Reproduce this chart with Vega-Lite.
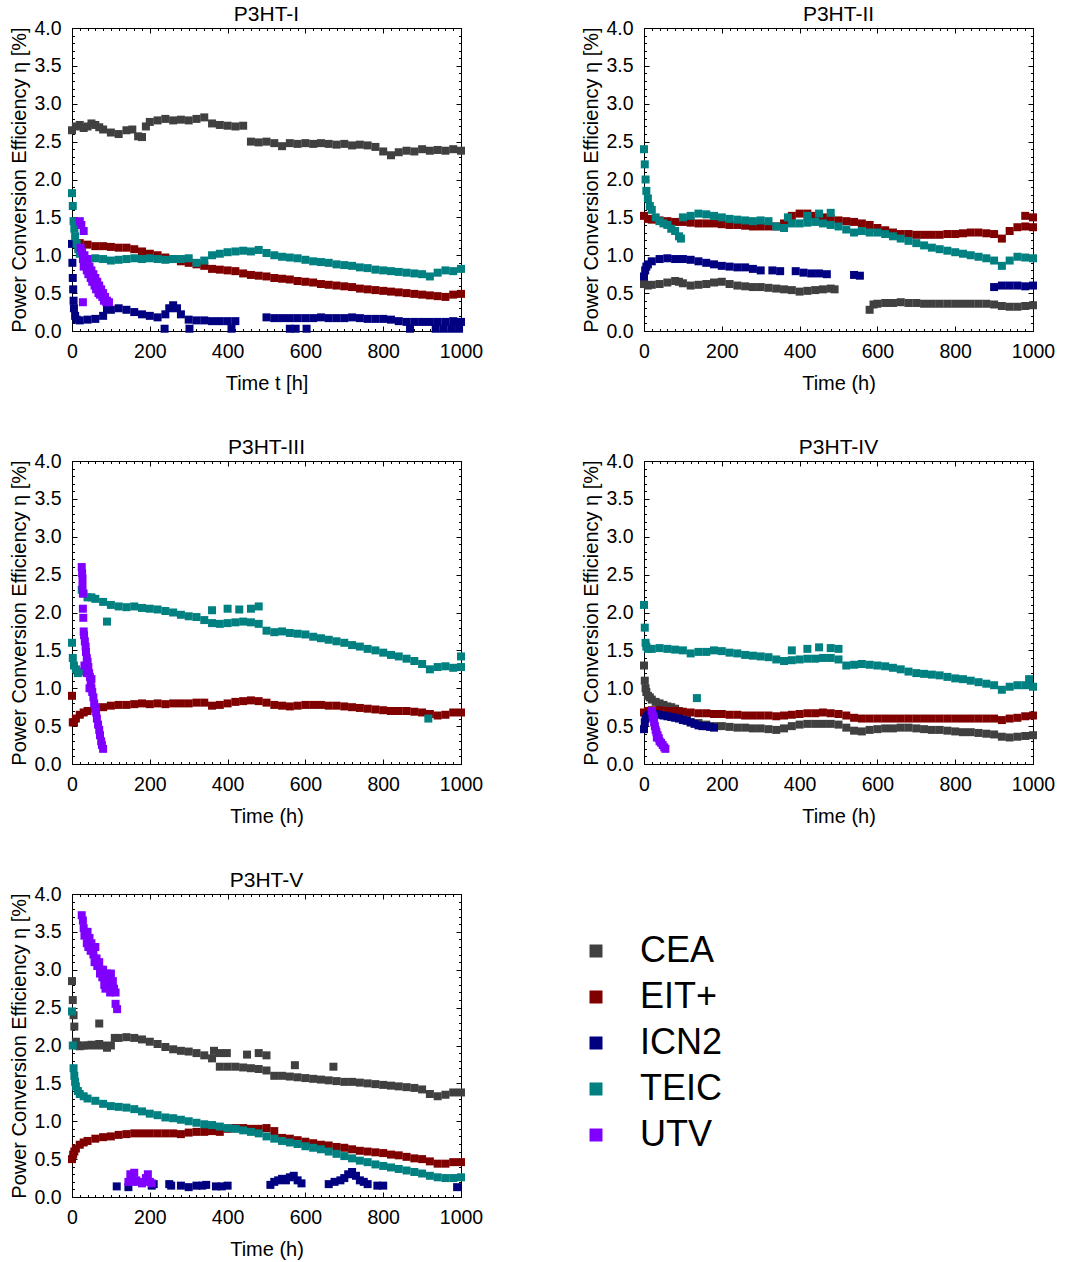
{
"$schema":"https://vega.github.io/schema/vega-lite/v6.json",
"padding":{"left":9,"top":4,"right":5,"bottom":5},
"datasets":{
"p1":[
{"s":"CEA","t":0,"v":2.65},{"s":"CEA","t":10,"v":2.7},{"s":"CEA","t":20,"v":2.72},{"s":"CEA","t":30,"v":2.68},{"s":"CEA","t":40,"v":2.7},{"s":"CEA","t":50,"v":2.74},{"s":"CEA","t":60,"v":2.72},{"s":"CEA","t":70,"v":2.69},{"s":"CEA","t":80,"v":2.66},{"s":"CEA","t":100,"v":2.62},{"s":"CEA","t":120,"v":2.6},{"s":"CEA","t":140,"v":2.65},{"s":"CEA","t":155,"v":2.66},{"s":"CEA","t":170,"v":2.57},{"s":"CEA","t":180,"v":2.56},{"s":"CEA","t":190,"v":2.7},{"s":"CEA","t":200,"v":2.76},{"s":"CEA","t":220,"v":2.78},{"s":"CEA","t":240,"v":2.8},{"s":"CEA","t":260,"v":2.78},{"s":"CEA","t":280,"v":2.79},{"s":"CEA","t":300,"v":2.78},{"s":"CEA","t":320,"v":2.8},{"s":"CEA","t":340,"v":2.82},{"s":"CEA","t":360,"v":2.74},{"s":"CEA","t":380,"v":2.72},{"s":"CEA","t":400,"v":2.71},{"s":"CEA","t":420,"v":2.7},{"s":"CEA","t":440,"v":2.71},{"s":"CEA","t":460,"v":2.5},{"s":"CEA","t":480,"v":2.49},{"s":"CEA","t":500,"v":2.5},{"s":"CEA","t":520,"v":2.48},{"s":"CEA","t":540,"v":2.44},{"s":"CEA","t":560,"v":2.48},{"s":"CEA","t":580,"v":2.47},{"s":"CEA","t":600,"v":2.48},{"s":"CEA","t":620,"v":2.47},{"s":"CEA","t":640,"v":2.48},{"s":"CEA","t":660,"v":2.47},{"s":"CEA","t":680,"v":2.46},{"s":"CEA","t":700,"v":2.47},{"s":"CEA","t":720,"v":2.45},{"s":"CEA","t":740,"v":2.46},{"s":"CEA","t":760,"v":2.45},{"s":"CEA","t":780,"v":2.43},{"s":"CEA","t":800,"v":2.37},{"s":"CEA","t":820,"v":2.32},{"s":"CEA","t":840,"v":2.36},{"s":"CEA","t":860,"v":2.38},{"s":"CEA","t":880,"v":2.37},{"s":"CEA","t":900,"v":2.4},{"s":"CEA","t":920,"v":2.38},{"s":"CEA","t":940,"v":2.39},{"s":"CEA","t":960,"v":2.38},{"s":"CEA","t":980,"v":2.4},{"s":"CEA","t":1000,"v":2.38},
{"s":"EIT+","t":20,"v":1.16},{"s":"EIT+","t":40,"v":1.14},{"s":"EIT+","t":60,"v":1.12},{"s":"EIT+","t":80,"v":1.12},{"s":"EIT+","t":100,"v":1.11},{"s":"EIT+","t":120,"v":1.1},{"s":"EIT+","t":140,"v":1.1},{"s":"EIT+","t":160,"v":1.08},{"s":"EIT+","t":180,"v":1.05},{"s":"EIT+","t":200,"v":1.02},{"s":"EIT+","t":220,"v":1.0},{"s":"EIT+","t":240,"v":0.97},{"s":"EIT+","t":260,"v":0.95},{"s":"EIT+","t":280,"v":0.92},{"s":"EIT+","t":300,"v":0.9},{"s":"EIT+","t":320,"v":0.88},{"s":"EIT+","t":340,"v":0.86},{"s":"EIT+","t":360,"v":0.82},{"s":"EIT+","t":380,"v":0.81},{"s":"EIT+","t":400,"v":0.8},{"s":"EIT+","t":420,"v":0.79},{"s":"EIT+","t":440,"v":0.76},{"s":"EIT+","t":460,"v":0.74},{"s":"EIT+","t":480,"v":0.73},{"s":"EIT+","t":500,"v":0.72},{"s":"EIT+","t":520,"v":0.7},{"s":"EIT+","t":540,"v":0.69},{"s":"EIT+","t":560,"v":0.68},{"s":"EIT+","t":580,"v":0.66},{"s":"EIT+","t":600,"v":0.65},{"s":"EIT+","t":620,"v":0.64},{"s":"EIT+","t":640,"v":0.62},{"s":"EIT+","t":660,"v":0.61},{"s":"EIT+","t":680,"v":0.6},{"s":"EIT+","t":700,"v":0.59},{"s":"EIT+","t":720,"v":0.58},{"s":"EIT+","t":740,"v":0.56},{"s":"EIT+","t":760,"v":0.55},{"s":"EIT+","t":780,"v":0.54},{"s":"EIT+","t":800,"v":0.53},{"s":"EIT+","t":820,"v":0.52},{"s":"EIT+","t":840,"v":0.51},{"s":"EIT+","t":860,"v":0.5},{"s":"EIT+","t":880,"v":0.49},{"s":"EIT+","t":900,"v":0.48},{"s":"EIT+","t":920,"v":0.47},{"s":"EIT+","t":940,"v":0.46},{"s":"EIT+","t":960,"v":0.45},{"s":"EIT+","t":980,"v":0.48},{"s":"EIT+","t":1000,"v":0.49},
{"s":"ICN2","t":0,"v":1.15},{"s":"ICN2","t":1,"v":0.9},{"s":"ICN2","t":2,"v":0.7},{"s":"ICN2","t":3,"v":0.55},{"s":"ICN2","t":4,"v":0.4},{"s":"ICN2","t":5,"v":0.3},{"s":"ICN2","t":8,"v":0.2},{"s":"ICN2","t":12,"v":0.15},{"s":"ICN2","t":20,"v":0.14},{"s":"ICN2","t":40,"v":0.15},{"s":"ICN2","t":60,"v":0.16},{"s":"ICN2","t":80,"v":0.2},{"s":"ICN2","t":90,"v":0.3},{"s":"ICN2","t":100,"v":0.28},{"s":"ICN2","t":120,"v":0.3},{"s":"ICN2","t":140,"v":0.28},{"s":"ICN2","t":160,"v":0.25},{"s":"ICN2","t":180,"v":0.22},{"s":"ICN2","t":200,"v":0.2},{"s":"ICN2","t":220,"v":0.18},{"s":"ICN2","t":240,"v":0.22},{"s":"ICN2","t":250,"v":0.3},{"s":"ICN2","t":260,"v":0.34},{"s":"ICN2","t":270,"v":0.3},{"s":"ICN2","t":280,"v":0.22},{"s":"ICN2","t":300,"v":0.15},{"s":"ICN2","t":320,"v":0.14},{"s":"ICN2","t":340,"v":0.14},{"s":"ICN2","t":360,"v":0.13},{"s":"ICN2","t":380,"v":0.13},{"s":"ICN2","t":400,"v":0.13},{"s":"ICN2","t":420,"v":0.13},{"s":"ICN2","t":500,"v":0.18},{"s":"ICN2","t":520,"v":0.17},{"s":"ICN2","t":540,"v":0.17},{"s":"ICN2","t":560,"v":0.17},{"s":"ICN2","t":580,"v":0.17},{"s":"ICN2","t":600,"v":0.17},{"s":"ICN2","t":620,"v":0.17},{"s":"ICN2","t":640,"v":0.18},{"s":"ICN2","t":660,"v":0.17},{"s":"ICN2","t":680,"v":0.17},{"s":"ICN2","t":700,"v":0.17},{"s":"ICN2","t":720,"v":0.18},{"s":"ICN2","t":740,"v":0.17},{"s":"ICN2","t":760,"v":0.16},{"s":"ICN2","t":780,"v":0.16},{"s":"ICN2","t":800,"v":0.16},{"s":"ICN2","t":820,"v":0.15},{"s":"ICN2","t":840,"v":0.13},{"s":"ICN2","t":860,"v":0.12},{"s":"ICN2","t":880,"v":0.12},{"s":"ICN2","t":900,"v":0.12},{"s":"ICN2","t":920,"v":0.12},{"s":"ICN2","t":940,"v":0.12},{"s":"ICN2","t":960,"v":0.12},{"s":"ICN2","t":980,"v":0.13},{"s":"ICN2","t":1000,"v":0.12},{"s":"ICN2","t":238,"v":0.03},{"s":"ICN2","t":302,"v":0.03},{"s":"ICN2","t":410,"v":0.03},{"s":"ICN2","t":560,"v":0.03},{"s":"ICN2","t":575,"v":0.03},{"s":"ICN2","t":603,"v":0.03},{"s":"ICN2","t":869,"v":0.03},{"s":"ICN2","t":935,"v":0.03},{"s":"ICN2","t":955,"v":0.03},{"s":"ICN2","t":975,"v":0.03},{"s":"ICN2","t":995,"v":0.03},
{"s":"TEIC","t":0,"v":1.82},{"s":"TEIC","t":2,"v":1.65},{"s":"TEIC","t":4,"v":1.45},{"s":"TEIC","t":6,"v":1.35},{"s":"TEIC","t":8,"v":1.25},{"s":"TEIC","t":12,"v":1.15},{"s":"TEIC","t":16,"v":1.08},{"s":"TEIC","t":20,"v":1.02},{"s":"TEIC","t":30,"v":0.97},{"s":"TEIC","t":40,"v":0.95},{"s":"TEIC","t":60,"v":0.96},{"s":"TEIC","t":80,"v":0.95},{"s":"TEIC","t":100,"v":0.93},{"s":"TEIC","t":120,"v":0.94},{"s":"TEIC","t":140,"v":0.95},{"s":"TEIC","t":160,"v":0.96},{"s":"TEIC","t":180,"v":0.95},{"s":"TEIC","t":200,"v":0.96},{"s":"TEIC","t":220,"v":0.95},{"s":"TEIC","t":240,"v":0.94},{"s":"TEIC","t":260,"v":0.95},{"s":"TEIC","t":280,"v":0.95},{"s":"TEIC","t":300,"v":0.96},{"s":"TEIC","t":320,"v":0.9},{"s":"TEIC","t":340,"v":0.93},{"s":"TEIC","t":360,"v":1.0},{"s":"TEIC","t":380,"v":1.02},{"s":"TEIC","t":400,"v":1.04},{"s":"TEIC","t":420,"v":1.05},{"s":"TEIC","t":440,"v":1.06},{"s":"TEIC","t":460,"v":1.05},{"s":"TEIC","t":480,"v":1.07},{"s":"TEIC","t":500,"v":1.03},{"s":"TEIC","t":520,"v":1.0},{"s":"TEIC","t":540,"v":0.98},{"s":"TEIC","t":560,"v":0.97},{"s":"TEIC","t":580,"v":0.96},{"s":"TEIC","t":600,"v":0.94},{"s":"TEIC","t":620,"v":0.92},{"s":"TEIC","t":640,"v":0.91},{"s":"TEIC","t":660,"v":0.9},{"s":"TEIC","t":680,"v":0.88},{"s":"TEIC","t":700,"v":0.87},{"s":"TEIC","t":720,"v":0.86},{"s":"TEIC","t":740,"v":0.84},{"s":"TEIC","t":760,"v":0.83},{"s":"TEIC","t":780,"v":0.81},{"s":"TEIC","t":800,"v":0.8},{"s":"TEIC","t":820,"v":0.79},{"s":"TEIC","t":840,"v":0.78},{"s":"TEIC","t":860,"v":0.77},{"s":"TEIC","t":880,"v":0.76},{"s":"TEIC","t":900,"v":0.75},{"s":"TEIC","t":920,"v":0.72},{"s":"TEIC","t":940,"v":0.77},{"s":"TEIC","t":960,"v":0.8},{"s":"TEIC","t":980,"v":0.79},{"s":"TEIC","t":1000,"v":0.82},
{"s":"UTV","t":20,"v":1.45},{"s":"UTV","t":24,"v":1.4},{"s":"UTV","t":30,"v":1.32},{"s":"UTV","t":22,"v":1.1},{"s":"UTV","t":26,"v":1.05},{"s":"UTV","t":28,"v":0.95},{"s":"UTV","t":30,"v":0.85},{"s":"UTV","t":32,"v":1.0},{"s":"UTV","t":35,"v":0.9},{"s":"UTV","t":38,"v":0.8},{"s":"UTV","t":40,"v":0.95},{"s":"UTV","t":42,"v":0.75},{"s":"UTV","t":45,"v":0.85},{"s":"UTV","t":48,"v":0.7},{"s":"UTV","t":50,"v":0.8},{"s":"UTV","t":52,"v":0.65},{"s":"UTV","t":55,"v":0.75},{"s":"UTV","t":58,"v":0.6},{"s":"UTV","t":60,"v":0.7},{"s":"UTV","t":62,"v":0.55},{"s":"UTV","t":65,"v":0.65},{"s":"UTV","t":68,"v":0.5},{"s":"UTV","t":70,"v":0.6},{"s":"UTV","t":72,"v":0.48},{"s":"UTV","t":75,"v":0.55},{"s":"UTV","t":78,"v":0.45},{"s":"UTV","t":80,"v":0.5},{"s":"UTV","t":82,"v":0.4},{"s":"UTV","t":85,"v":0.45},{"s":"UTV","t":88,"v":0.38},{"s":"UTV","t":90,"v":0.4},{"s":"UTV","t":95,"v":0.38},{"s":"UTV","t":28,"v":0.38}
],
"p2":[
{"s":"CEA","t":0,"v":0.62},{"s":"CEA","t":10,"v":0.6},{"s":"CEA","t":20,"v":0.61},{"s":"CEA","t":40,"v":0.62},{"s":"CEA","t":60,"v":0.64},{"s":"CEA","t":80,"v":0.66},{"s":"CEA","t":90,"v":0.65},{"s":"CEA","t":100,"v":0.63},{"s":"CEA","t":120,"v":0.6},{"s":"CEA","t":140,"v":0.61},{"s":"CEA","t":160,"v":0.62},{"s":"CEA","t":180,"v":0.64},{"s":"CEA","t":200,"v":0.65},{"s":"CEA","t":220,"v":0.62},{"s":"CEA","t":240,"v":0.6},{"s":"CEA","t":260,"v":0.59},{"s":"CEA","t":280,"v":0.58},{"s":"CEA","t":300,"v":0.58},{"s":"CEA","t":320,"v":0.57},{"s":"CEA","t":340,"v":0.56},{"s":"CEA","t":360,"v":0.55},{"s":"CEA","t":380,"v":0.54},{"s":"CEA","t":400,"v":0.52},{"s":"CEA","t":420,"v":0.53},{"s":"CEA","t":440,"v":0.54},{"s":"CEA","t":460,"v":0.55},{"s":"CEA","t":480,"v":0.56},{"s":"CEA","t":490,"v":0.55},{"s":"CEA","t":580,"v":0.28},{"s":"CEA","t":590,"v":0.35},{"s":"CEA","t":600,"v":0.36},{"s":"CEA","t":620,"v":0.37},{"s":"CEA","t":640,"v":0.37},{"s":"CEA","t":660,"v":0.38},{"s":"CEA","t":680,"v":0.37},{"s":"CEA","t":700,"v":0.37},{"s":"CEA","t":720,"v":0.36},{"s":"CEA","t":740,"v":0.36},{"s":"CEA","t":760,"v":0.36},{"s":"CEA","t":780,"v":0.36},{"s":"CEA","t":800,"v":0.36},{"s":"CEA","t":820,"v":0.36},{"s":"CEA","t":840,"v":0.36},{"s":"CEA","t":860,"v":0.36},{"s":"CEA","t":880,"v":0.36},{"s":"CEA","t":900,"v":0.35},{"s":"CEA","t":920,"v":0.33},{"s":"CEA","t":940,"v":0.32},{"s":"CEA","t":960,"v":0.32},{"s":"CEA","t":980,"v":0.33},{"s":"CEA","t":1000,"v":0.34},
{"s":"EIT+","t":0,"v":1.52},{"s":"EIT+","t":10,"v":1.48},{"s":"EIT+","t":20,"v":1.47},{"s":"EIT+","t":40,"v":1.46},{"s":"EIT+","t":60,"v":1.45},{"s":"EIT+","t":80,"v":1.44},{"s":"EIT+","t":100,"v":1.44},{"s":"EIT+","t":120,"v":1.43},{"s":"EIT+","t":140,"v":1.42},{"s":"EIT+","t":160,"v":1.42},{"s":"EIT+","t":180,"v":1.42},{"s":"EIT+","t":200,"v":1.41},{"s":"EIT+","t":220,"v":1.4},{"s":"EIT+","t":240,"v":1.4},{"s":"EIT+","t":260,"v":1.39},{"s":"EIT+","t":280,"v":1.38},{"s":"EIT+","t":300,"v":1.38},{"s":"EIT+","t":320,"v":1.38},{"s":"EIT+","t":340,"v":1.38},{"s":"EIT+","t":360,"v":1.42},{"s":"EIT+","t":380,"v":1.52},{"s":"EIT+","t":400,"v":1.55},{"s":"EIT+","t":420,"v":1.55},{"s":"EIT+","t":440,"v":1.52},{"s":"EIT+","t":460,"v":1.5},{"s":"EIT+","t":480,"v":1.48},{"s":"EIT+","t":500,"v":1.46},{"s":"EIT+","t":520,"v":1.45},{"s":"EIT+","t":540,"v":1.44},{"s":"EIT+","t":560,"v":1.42},{"s":"EIT+","t":580,"v":1.4},{"s":"EIT+","t":600,"v":1.36},{"s":"EIT+","t":620,"v":1.33},{"s":"EIT+","t":640,"v":1.3},{"s":"EIT+","t":660,"v":1.28},{"s":"EIT+","t":680,"v":1.28},{"s":"EIT+","t":700,"v":1.27},{"s":"EIT+","t":720,"v":1.27},{"s":"EIT+","t":740,"v":1.27},{"s":"EIT+","t":760,"v":1.27},{"s":"EIT+","t":780,"v":1.28},{"s":"EIT+","t":800,"v":1.28},{"s":"EIT+","t":820,"v":1.29},{"s":"EIT+","t":840,"v":1.3},{"s":"EIT+","t":860,"v":1.3},{"s":"EIT+","t":880,"v":1.29},{"s":"EIT+","t":900,"v":1.28},{"s":"EIT+","t":920,"v":1.22},{"s":"EIT+","t":940,"v":1.32},{"s":"EIT+","t":960,"v":1.37},{"s":"EIT+","t":980,"v":1.38},{"s":"EIT+","t":1000,"v":1.37},{"s":"EIT+","t":980,"v":1.52},{"s":"EIT+","t":1000,"v":1.5},
{"s":"ICN2","t":0,"v":0.72},{"s":"ICN2","t":3,"v":0.8},{"s":"ICN2","t":6,"v":0.85},{"s":"ICN2","t":10,"v":0.88},{"s":"ICN2","t":20,"v":0.92},{"s":"ICN2","t":40,"v":0.95},{"s":"ICN2","t":60,"v":0.96},{"s":"ICN2","t":80,"v":0.95},{"s":"ICN2","t":100,"v":0.95},{"s":"ICN2","t":120,"v":0.94},{"s":"ICN2","t":140,"v":0.92},{"s":"ICN2","t":160,"v":0.9},{"s":"ICN2","t":180,"v":0.88},{"s":"ICN2","t":200,"v":0.86},{"s":"ICN2","t":220,"v":0.85},{"s":"ICN2","t":240,"v":0.84},{"s":"ICN2","t":260,"v":0.84},{"s":"ICN2","t":280,"v":0.82},{"s":"ICN2","t":300,"v":0.8},{"s":"ICN2","t":330,"v":0.8},{"s":"ICN2","t":350,"v":0.79},{"s":"ICN2","t":390,"v":0.79},{"s":"ICN2","t":410,"v":0.77},{"s":"ICN2","t":430,"v":0.76},{"s":"ICN2","t":450,"v":0.76},{"s":"ICN2","t":470,"v":0.75},{"s":"ICN2","t":540,"v":0.74},{"s":"ICN2","t":555,"v":0.73},{"s":"ICN2","t":900,"v":0.58},{"s":"ICN2","t":920,"v":0.6},{"s":"ICN2","t":940,"v":0.6},{"s":"ICN2","t":960,"v":0.6},{"s":"ICN2","t":980,"v":0.59},{"s":"ICN2","t":1000,"v":0.6},
{"s":"TEIC","t":0,"v":2.4},{"s":"TEIC","t":2,"v":2.2},{"s":"TEIC","t":4,"v":2.0},{"s":"TEIC","t":6,"v":1.85},{"s":"TEIC","t":10,"v":1.75},{"s":"TEIC","t":15,"v":1.65},{"s":"TEIC","t":20,"v":1.6},{"s":"TEIC","t":30,"v":1.5},{"s":"TEIC","t":40,"v":1.45},{"s":"TEIC","t":50,"v":1.42},{"s":"TEIC","t":60,"v":1.4},{"s":"TEIC","t":70,"v":1.35},{"s":"TEIC","t":80,"v":1.32},{"s":"TEIC","t":90,"v":1.25},{"s":"TEIC","t":95,"v":1.22},{"s":"TEIC","t":100,"v":1.5},{"s":"TEIC","t":120,"v":1.52},{"s":"TEIC","t":140,"v":1.55},{"s":"TEIC","t":160,"v":1.54},{"s":"TEIC","t":180,"v":1.52},{"s":"TEIC","t":200,"v":1.5},{"s":"TEIC","t":220,"v":1.48},{"s":"TEIC","t":240,"v":1.47},{"s":"TEIC","t":260,"v":1.46},{"s":"TEIC","t":280,"v":1.45},{"s":"TEIC","t":300,"v":1.46},{"s":"TEIC","t":320,"v":1.45},{"s":"TEIC","t":340,"v":1.38},{"s":"TEIC","t":360,"v":1.36},{"s":"TEIC","t":380,"v":1.42},{"s":"TEIC","t":400,"v":1.42},{"s":"TEIC","t":420,"v":1.43},{"s":"TEIC","t":440,"v":1.44},{"s":"TEIC","t":460,"v":1.42},{"s":"TEIC","t":480,"v":1.4},{"s":"TEIC","t":500,"v":1.38},{"s":"TEIC","t":520,"v":1.34},{"s":"TEIC","t":540,"v":1.3},{"s":"TEIC","t":560,"v":1.32},{"s":"TEIC","t":580,"v":1.3},{"s":"TEIC","t":600,"v":1.3},{"s":"TEIC","t":620,"v":1.28},{"s":"TEIC","t":640,"v":1.25},{"s":"TEIC","t":660,"v":1.22},{"s":"TEIC","t":680,"v":1.19},{"s":"TEIC","t":700,"v":1.16},{"s":"TEIC","t":720,"v":1.13},{"s":"TEIC","t":740,"v":1.1},{"s":"TEIC","t":760,"v":1.08},{"s":"TEIC","t":780,"v":1.06},{"s":"TEIC","t":800,"v":1.04},{"s":"TEIC","t":820,"v":1.02},{"s":"TEIC","t":840,"v":1.0},{"s":"TEIC","t":860,"v":0.98},{"s":"TEIC","t":880,"v":0.96},{"s":"TEIC","t":900,"v":0.93},{"s":"TEIC","t":920,"v":0.86},{"s":"TEIC","t":940,"v":0.93},{"s":"TEIC","t":960,"v":0.98},{"s":"TEIC","t":980,"v":0.97},{"s":"TEIC","t":1000,"v":0.96},{"s":"TEIC","t":370,"v":1.5},{"s":"TEIC","t":420,"v":1.52},{"s":"TEIC","t":450,"v":1.55},{"s":"TEIC","t":480,"v":1.56}
],
"p3":[
{"s":"EIT+","t":0,"v":0.9},{"s":"EIT+","t":2,"v":0.55},{"s":"EIT+","t":5,"v":0.55},{"s":"EIT+","t":10,"v":0.6},{"s":"EIT+","t":20,"v":0.65},{"s":"EIT+","t":30,"v":0.68},{"s":"EIT+","t":40,"v":0.7},{"s":"EIT+","t":60,"v":0.73},{"s":"EIT+","t":80,"v":0.75},{"s":"EIT+","t":100,"v":0.77},{"s":"EIT+","t":120,"v":0.78},{"s":"EIT+","t":140,"v":0.78},{"s":"EIT+","t":160,"v":0.79},{"s":"EIT+","t":180,"v":0.8},{"s":"EIT+","t":200,"v":0.79},{"s":"EIT+","t":220,"v":0.8},{"s":"EIT+","t":240,"v":0.79},{"s":"EIT+","t":260,"v":0.8},{"s":"EIT+","t":280,"v":0.8},{"s":"EIT+","t":300,"v":0.8},{"s":"EIT+","t":320,"v":0.81},{"s":"EIT+","t":340,"v":0.81},{"s":"EIT+","t":360,"v":0.77},{"s":"EIT+","t":380,"v":0.78},{"s":"EIT+","t":400,"v":0.8},{"s":"EIT+","t":420,"v":0.82},{"s":"EIT+","t":440,"v":0.83},{"s":"EIT+","t":460,"v":0.84},{"s":"EIT+","t":480,"v":0.83},{"s":"EIT+","t":500,"v":0.81},{"s":"EIT+","t":520,"v":0.78},{"s":"EIT+","t":540,"v":0.77},{"s":"EIT+","t":560,"v":0.76},{"s":"EIT+","t":580,"v":0.77},{"s":"EIT+","t":600,"v":0.78},{"s":"EIT+","t":620,"v":0.78},{"s":"EIT+","t":640,"v":0.78},{"s":"EIT+","t":660,"v":0.77},{"s":"EIT+","t":680,"v":0.77},{"s":"EIT+","t":700,"v":0.76},{"s":"EIT+","t":720,"v":0.75},{"s":"EIT+","t":740,"v":0.74},{"s":"EIT+","t":760,"v":0.73},{"s":"EIT+","t":780,"v":0.72},{"s":"EIT+","t":800,"v":0.71},{"s":"EIT+","t":820,"v":0.7},{"s":"EIT+","t":840,"v":0.7},{"s":"EIT+","t":860,"v":0.7},{"s":"EIT+","t":880,"v":0.69},{"s":"EIT+","t":900,"v":0.68},{"s":"EIT+","t":920,"v":0.66},{"s":"EIT+","t":940,"v":0.64},{"s":"EIT+","t":960,"v":0.65},{"s":"EIT+","t":980,"v":0.68},{"s":"EIT+","t":1000,"v":0.68},
{"s":"TEIC","t":0,"v":1.6},{"s":"TEIC","t":2,"v":1.4},{"s":"TEIC","t":5,"v":1.3},{"s":"TEIC","t":10,"v":1.25},{"s":"TEIC","t":15,"v":1.2},{"s":"TEIC","t":20,"v":1.22},{"s":"TEIC","t":25,"v":2.3},{"s":"TEIC","t":30,"v":2.25},{"s":"TEIC","t":40,"v":2.2},{"s":"TEIC","t":50,"v":2.2},{"s":"TEIC","t":60,"v":2.18},{"s":"TEIC","t":80,"v":2.14},{"s":"TEIC","t":90,"v":1.88},{"s":"TEIC","t":100,"v":2.1},{"s":"TEIC","t":120,"v":2.08},{"s":"TEIC","t":140,"v":2.07},{"s":"TEIC","t":160,"v":2.08},{"s":"TEIC","t":180,"v":2.06},{"s":"TEIC","t":200,"v":2.05},{"s":"TEIC","t":220,"v":2.04},{"s":"TEIC","t":240,"v":2.02},{"s":"TEIC","t":260,"v":2.0},{"s":"TEIC","t":280,"v":1.97},{"s":"TEIC","t":300,"v":1.95},{"s":"TEIC","t":320,"v":1.94},{"s":"TEIC","t":340,"v":1.9},{"s":"TEIC","t":360,"v":1.86},{"s":"TEIC","t":380,"v":1.85},{"s":"TEIC","t":400,"v":1.86},{"s":"TEIC","t":420,"v":1.87},{"s":"TEIC","t":440,"v":1.88},{"s":"TEIC","t":460,"v":1.87},{"s":"TEIC","t":480,"v":1.85},{"s":"TEIC","t":500,"v":1.76},{"s":"TEIC","t":520,"v":1.74},{"s":"TEIC","t":540,"v":1.75},{"s":"TEIC","t":560,"v":1.73},{"s":"TEIC","t":580,"v":1.72},{"s":"TEIC","t":600,"v":1.71},{"s":"TEIC","t":620,"v":1.68},{"s":"TEIC","t":640,"v":1.66},{"s":"TEIC","t":660,"v":1.64},{"s":"TEIC","t":680,"v":1.62},{"s":"TEIC","t":700,"v":1.6},{"s":"TEIC","t":720,"v":1.57},{"s":"TEIC","t":740,"v":1.55},{"s":"TEIC","t":760,"v":1.52},{"s":"TEIC","t":780,"v":1.5},{"s":"TEIC","t":800,"v":1.47},{"s":"TEIC","t":820,"v":1.44},{"s":"TEIC","t":840,"v":1.42},{"s":"TEIC","t":860,"v":1.39},{"s":"TEIC","t":880,"v":1.36},{"s":"TEIC","t":900,"v":1.32},{"s":"TEIC","t":920,"v":1.25},{"s":"TEIC","t":940,"v":1.28},{"s":"TEIC","t":960,"v":1.29},{"s":"TEIC","t":980,"v":1.27},{"s":"TEIC","t":1000,"v":1.28},{"s":"TEIC","t":360,"v":2.03},{"s":"TEIC","t":400,"v":2.05},{"s":"TEIC","t":430,"v":2.04},{"s":"TEIC","t":460,"v":2.05},{"s":"TEIC","t":480,"v":2.08},{"s":"TEIC","t":1000,"v":1.42},{"s":"TEIC","t":916,"v":0.6},
{"s":"UTV","t":25,"v":2.6},{"s":"UTV","t":26,"v":2.52},{"s":"UTV","t":27,"v":2.45},{"s":"UTV","t":27,"v":2.35},{"s":"UTV","t":28,"v":2.25},{"s":"UTV","t":28,"v":2.05},{"s":"UTV","t":29,"v":1.93},{"s":"UTV","t":30,"v":1.75},{"s":"UTV","t":31,"v":1.7},{"s":"UTV","t":33,"v":1.62},{"s":"UTV","t":35,"v":1.55},{"s":"UTV","t":36,"v":1.48},{"s":"UTV","t":38,"v":1.4},{"s":"UTV","t":40,"v":1.35},{"s":"UTV","t":42,"v":1.28},{"s":"UTV","t":44,"v":1.2},{"s":"UTV","t":46,"v":1.15},{"s":"UTV","t":48,"v":1.08},{"s":"UTV","t":50,"v":1.0},{"s":"UTV","t":52,"v":0.95},{"s":"UTV","t":55,"v":0.88},{"s":"UTV","t":57,"v":0.8},{"s":"UTV","t":60,"v":0.75},{"s":"UTV","t":62,"v":0.68},{"s":"UTV","t":64,"v":0.6},{"s":"UTV","t":67,"v":0.52},{"s":"UTV","t":70,"v":0.45},{"s":"UTV","t":72,"v":0.38},{"s":"UTV","t":75,"v":0.3},{"s":"UTV","t":77,"v":0.25},{"s":"UTV","t":80,"v":0.2},{"s":"UTV","t":32,"v":1.3},{"s":"UTV","t":38,"v":1.2},{"s":"UTV","t":45,"v":1.0},{"s":"UTV","t":50,"v":1.12}
],
"p4":[
{"s":"CEA","t":0,"v":1.3},{"s":"CEA","t":2,"v":1.1},{"s":"CEA","t":4,"v":1.0},{"s":"CEA","t":6,"v":0.95},{"s":"CEA","t":10,"v":0.9},{"s":"CEA","t":15,"v":0.88},{"s":"CEA","t":20,"v":0.85},{"s":"CEA","t":30,"v":0.82},{"s":"CEA","t":40,"v":0.8},{"s":"CEA","t":50,"v":0.78},{"s":"CEA","t":60,"v":0.76},{"s":"CEA","t":70,"v":0.75},{"s":"CEA","t":80,"v":0.73},{"s":"CEA","t":90,"v":0.7},{"s":"CEA","t":100,"v":0.65},{"s":"CEA","t":110,"v":0.6},{"s":"CEA","t":120,"v":0.55},{"s":"CEA","t":140,"v":0.54},{"s":"CEA","t":160,"v":0.52},{"s":"CEA","t":180,"v":0.5},{"s":"CEA","t":200,"v":0.5},{"s":"CEA","t":220,"v":0.49},{"s":"CEA","t":240,"v":0.48},{"s":"CEA","t":260,"v":0.48},{"s":"CEA","t":280,"v":0.47},{"s":"CEA","t":300,"v":0.47},{"s":"CEA","t":320,"v":0.46},{"s":"CEA","t":340,"v":0.45},{"s":"CEA","t":360,"v":0.47},{"s":"CEA","t":380,"v":0.5},{"s":"CEA","t":400,"v":0.52},{"s":"CEA","t":420,"v":0.53},{"s":"CEA","t":440,"v":0.53},{"s":"CEA","t":460,"v":0.53},{"s":"CEA","t":480,"v":0.53},{"s":"CEA","t":500,"v":0.52},{"s":"CEA","t":520,"v":0.48},{"s":"CEA","t":540,"v":0.44},{"s":"CEA","t":560,"v":0.43},{"s":"CEA","t":580,"v":0.45},{"s":"CEA","t":600,"v":0.46},{"s":"CEA","t":620,"v":0.47},{"s":"CEA","t":640,"v":0.47},{"s":"CEA","t":660,"v":0.48},{"s":"CEA","t":680,"v":0.48},{"s":"CEA","t":700,"v":0.47},{"s":"CEA","t":720,"v":0.46},{"s":"CEA","t":740,"v":0.45},{"s":"CEA","t":760,"v":0.45},{"s":"CEA","t":780,"v":0.44},{"s":"CEA","t":800,"v":0.43},{"s":"CEA","t":820,"v":0.42},{"s":"CEA","t":840,"v":0.42},{"s":"CEA","t":860,"v":0.41},{"s":"CEA","t":880,"v":0.4},{"s":"CEA","t":900,"v":0.39},{"s":"CEA","t":920,"v":0.36},{"s":"CEA","t":940,"v":0.35},{"s":"CEA","t":960,"v":0.36},{"s":"CEA","t":980,"v":0.37},{"s":"CEA","t":1000,"v":0.38},
{"s":"EIT+","t":0,"v":0.68},{"s":"EIT+","t":10,"v":0.7},{"s":"EIT+","t":20,"v":0.71},{"s":"EIT+","t":40,"v":0.71},{"s":"EIT+","t":60,"v":0.7},{"s":"EIT+","t":80,"v":0.7},{"s":"EIT+","t":100,"v":0.69},{"s":"EIT+","t":120,"v":0.68},{"s":"EIT+","t":140,"v":0.67},{"s":"EIT+","t":160,"v":0.67},{"s":"EIT+","t":180,"v":0.66},{"s":"EIT+","t":200,"v":0.66},{"s":"EIT+","t":220,"v":0.65},{"s":"EIT+","t":240,"v":0.65},{"s":"EIT+","t":260,"v":0.64},{"s":"EIT+","t":280,"v":0.64},{"s":"EIT+","t":300,"v":0.64},{"s":"EIT+","t":320,"v":0.64},{"s":"EIT+","t":340,"v":0.63},{"s":"EIT+","t":360,"v":0.64},{"s":"EIT+","t":380,"v":0.65},{"s":"EIT+","t":400,"v":0.66},{"s":"EIT+","t":420,"v":0.67},{"s":"EIT+","t":440,"v":0.67},{"s":"EIT+","t":460,"v":0.68},{"s":"EIT+","t":480,"v":0.67},{"s":"EIT+","t":500,"v":0.66},{"s":"EIT+","t":520,"v":0.64},{"s":"EIT+","t":540,"v":0.61},{"s":"EIT+","t":560,"v":0.6},{"s":"EIT+","t":580,"v":0.6},{"s":"EIT+","t":600,"v":0.6},{"s":"EIT+","t":620,"v":0.6},{"s":"EIT+","t":640,"v":0.6},{"s":"EIT+","t":660,"v":0.6},{"s":"EIT+","t":680,"v":0.6},{"s":"EIT+","t":700,"v":0.6},{"s":"EIT+","t":720,"v":0.6},{"s":"EIT+","t":740,"v":0.6},{"s":"EIT+","t":760,"v":0.6},{"s":"EIT+","t":780,"v":0.6},{"s":"EIT+","t":800,"v":0.6},{"s":"EIT+","t":820,"v":0.6},{"s":"EIT+","t":840,"v":0.6},{"s":"EIT+","t":860,"v":0.6},{"s":"EIT+","t":880,"v":0.6},{"s":"EIT+","t":900,"v":0.6},{"s":"EIT+","t":920,"v":0.58},{"s":"EIT+","t":940,"v":0.6},{"s":"EIT+","t":960,"v":0.61},{"s":"EIT+","t":980,"v":0.63},{"s":"EIT+","t":1000,"v":0.64},
{"s":"ICN2","t":0,"v":0.46},{"s":"ICN2","t":2,"v":0.55},{"s":"ICN2","t":4,"v":0.6},{"s":"ICN2","t":8,"v":0.63},{"s":"ICN2","t":12,"v":0.65},{"s":"ICN2","t":20,"v":0.66},{"s":"ICN2","t":30,"v":0.66},{"s":"ICN2","t":40,"v":0.65},{"s":"ICN2","t":50,"v":0.64},{"s":"ICN2","t":60,"v":0.63},{"s":"ICN2","t":70,"v":0.62},{"s":"ICN2","t":80,"v":0.61},{"s":"ICN2","t":90,"v":0.6},{"s":"ICN2","t":100,"v":0.58},{"s":"ICN2","t":110,"v":0.57},{"s":"ICN2","t":120,"v":0.55},{"s":"ICN2","t":130,"v":0.53},{"s":"ICN2","t":140,"v":0.51},{"s":"ICN2","t":150,"v":0.5},{"s":"ICN2","t":160,"v":0.5},{"s":"ICN2","t":170,"v":0.49},{"s":"ICN2","t":180,"v":0.48},
{"s":"TEIC","t":0,"v":2.1},{"s":"TEIC","t":2,"v":1.8},{"s":"TEIC","t":4,"v":1.6},{"s":"TEIC","t":6,"v":1.55},{"s":"TEIC","t":10,"v":1.52},{"s":"TEIC","t":20,"v":1.52},{"s":"TEIC","t":40,"v":1.53},{"s":"TEIC","t":60,"v":1.52},{"s":"TEIC","t":80,"v":1.51},{"s":"TEIC","t":100,"v":1.5},{"s":"TEIC","t":120,"v":1.46},{"s":"TEIC","t":140,"v":1.48},{"s":"TEIC","t":160,"v":1.48},{"s":"TEIC","t":180,"v":1.5},{"s":"TEIC","t":200,"v":1.49},{"s":"TEIC","t":220,"v":1.47},{"s":"TEIC","t":240,"v":1.46},{"s":"TEIC","t":260,"v":1.44},{"s":"TEIC","t":280,"v":1.43},{"s":"TEIC","t":300,"v":1.42},{"s":"TEIC","t":320,"v":1.41},{"s":"TEIC","t":340,"v":1.38},{"s":"TEIC","t":360,"v":1.36},{"s":"TEIC","t":380,"v":1.37},{"s":"TEIC","t":400,"v":1.38},{"s":"TEIC","t":420,"v":1.39},{"s":"TEIC","t":440,"v":1.39},{"s":"TEIC","t":460,"v":1.4},{"s":"TEIC","t":480,"v":1.4},{"s":"TEIC","t":500,"v":1.38},{"s":"TEIC","t":520,"v":1.3},{"s":"TEIC","t":540,"v":1.31},{"s":"TEIC","t":560,"v":1.32},{"s":"TEIC","t":580,"v":1.31},{"s":"TEIC","t":600,"v":1.3},{"s":"TEIC","t":620,"v":1.29},{"s":"TEIC","t":640,"v":1.27},{"s":"TEIC","t":660,"v":1.25},{"s":"TEIC","t":680,"v":1.22},{"s":"TEIC","t":700,"v":1.2},{"s":"TEIC","t":720,"v":1.19},{"s":"TEIC","t":740,"v":1.18},{"s":"TEIC","t":760,"v":1.17},{"s":"TEIC","t":780,"v":1.15},{"s":"TEIC","t":800,"v":1.13},{"s":"TEIC","t":820,"v":1.12},{"s":"TEIC","t":840,"v":1.1},{"s":"TEIC","t":860,"v":1.08},{"s":"TEIC","t":880,"v":1.06},{"s":"TEIC","t":900,"v":1.04},{"s":"TEIC","t":920,"v":0.98},{"s":"TEIC","t":940,"v":1.02},{"s":"TEIC","t":960,"v":1.04},{"s":"TEIC","t":980,"v":1.04},{"s":"TEIC","t":1000,"v":1.02},{"s":"TEIC","t":380,"v":1.5},{"s":"TEIC","t":420,"v":1.52},{"s":"TEIC","t":450,"v":1.54},{"s":"TEIC","t":480,"v":1.53},{"s":"TEIC","t":500,"v":1.52},{"s":"TEIC","t":990,"v":1.12},{"s":"TEIC","t":136,"v":0.87},
{"s":"UTV","t":20,"v":0.7},{"s":"UTV","t":22,"v":0.65},{"s":"UTV","t":24,"v":0.62},{"s":"UTV","t":25,"v":0.6},{"s":"UTV","t":26,"v":0.55},{"s":"UTV","t":28,"v":0.5},{"s":"UTV","t":30,"v":0.45},{"s":"UTV","t":32,"v":0.42},{"s":"UTV","t":33,"v":0.35},{"s":"UTV","t":35,"v":0.38},{"s":"UTV","t":38,"v":0.34},{"s":"UTV","t":40,"v":0.3},{"s":"UTV","t":44,"v":0.28},{"s":"UTV","t":48,"v":0.25},{"s":"UTV","t":52,"v":0.22},{"s":"UTV","t":55,"v":0.2}
],
"p5":[
{"s":"CEA","t":0,"v":2.85},{"s":"CEA","t":2,"v":2.6},{"s":"CEA","t":4,"v":2.4},{"s":"CEA","t":6,"v":2.25},{"s":"CEA","t":10,"v":2.05},{"s":"CEA","t":15,"v":2.0},{"s":"CEA","t":20,"v":1.99},{"s":"CEA","t":30,"v":2.0},{"s":"CEA","t":40,"v":2.0},{"s":"CEA","t":50,"v":2.01},{"s":"CEA","t":60,"v":2.0},{"s":"CEA","t":70,"v":2.02},{"s":"CEA","t":80,"v":2.0},{"s":"CEA","t":90,"v":1.97},{"s":"CEA","t":100,"v":2.0},{"s":"CEA","t":110,"v":2.1},{"s":"CEA","t":120,"v":2.1},{"s":"CEA","t":140,"v":2.11},{"s":"CEA","t":160,"v":2.1},{"s":"CEA","t":180,"v":2.08},{"s":"CEA","t":200,"v":2.05},{"s":"CEA","t":220,"v":2.02},{"s":"CEA","t":240,"v":1.98},{"s":"CEA","t":260,"v":1.95},{"s":"CEA","t":280,"v":1.93},{"s":"CEA","t":300,"v":1.92},{"s":"CEA","t":320,"v":1.9},{"s":"CEA","t":340,"v":1.87},{"s":"CEA","t":360,"v":1.83},{"s":"CEA","t":380,"v":1.72},{"s":"CEA","t":400,"v":1.72},{"s":"CEA","t":420,"v":1.72},{"s":"CEA","t":440,"v":1.71},{"s":"CEA","t":460,"v":1.7},{"s":"CEA","t":480,"v":1.69},{"s":"CEA","t":500,"v":1.67},{"s":"CEA","t":520,"v":1.6},{"s":"CEA","t":540,"v":1.6},{"s":"CEA","t":560,"v":1.59},{"s":"CEA","t":580,"v":1.58},{"s":"CEA","t":600,"v":1.57},{"s":"CEA","t":620,"v":1.56},{"s":"CEA","t":640,"v":1.55},{"s":"CEA","t":660,"v":1.54},{"s":"CEA","t":680,"v":1.53},{"s":"CEA","t":700,"v":1.52},{"s":"CEA","t":720,"v":1.52},{"s":"CEA","t":740,"v":1.51},{"s":"CEA","t":760,"v":1.5},{"s":"CEA","t":780,"v":1.49},{"s":"CEA","t":800,"v":1.48},{"s":"CEA","t":820,"v":1.47},{"s":"CEA","t":840,"v":1.46},{"s":"CEA","t":860,"v":1.45},{"s":"CEA","t":880,"v":1.44},{"s":"CEA","t":900,"v":1.42},{"s":"CEA","t":920,"v":1.36},{"s":"CEA","t":940,"v":1.33},{"s":"CEA","t":960,"v":1.35},{"s":"CEA","t":980,"v":1.38},{"s":"CEA","t":1000,"v":1.38},{"s":"CEA","t":70,"v":2.29},{"s":"CEA","t":365,"v":1.93},{"s":"CEA","t":380,"v":1.9},{"s":"CEA","t":398,"v":1.9},{"s":"CEA","t":450,"v":1.88},{"s":"CEA","t":480,"v":1.9},{"s":"CEA","t":500,"v":1.87},{"s":"CEA","t":573,"v":1.74},{"s":"CEA","t":672,"v":1.72},
{"s":"EIT+","t":0,"v":0.5},{"s":"EIT+","t":3,"v":0.56},{"s":"EIT+","t":6,"v":0.6},{"s":"EIT+","t":10,"v":0.64},{"s":"EIT+","t":20,"v":0.69},{"s":"EIT+","t":30,"v":0.72},{"s":"EIT+","t":40,"v":0.74},{"s":"EIT+","t":60,"v":0.77},{"s":"EIT+","t":80,"v":0.79},{"s":"EIT+","t":100,"v":0.8},{"s":"EIT+","t":120,"v":0.82},{"s":"EIT+","t":140,"v":0.83},{"s":"EIT+","t":160,"v":0.84},{"s":"EIT+","t":180,"v":0.84},{"s":"EIT+","t":200,"v":0.84},{"s":"EIT+","t":220,"v":0.84},{"s":"EIT+","t":240,"v":0.84},{"s":"EIT+","t":260,"v":0.84},{"s":"EIT+","t":280,"v":0.83},{"s":"EIT+","t":300,"v":0.85},{"s":"EIT+","t":320,"v":0.86},{"s":"EIT+","t":340,"v":0.86},{"s":"EIT+","t":360,"v":0.87},{"s":"EIT+","t":380,"v":0.86},{"s":"EIT+","t":400,"v":0.9},{"s":"EIT+","t":420,"v":0.91},{"s":"EIT+","t":440,"v":0.91},{"s":"EIT+","t":460,"v":0.9},{"s":"EIT+","t":480,"v":0.9},{"s":"EIT+","t":500,"v":0.91},{"s":"EIT+","t":520,"v":0.87},{"s":"EIT+","t":540,"v":0.78},{"s":"EIT+","t":560,"v":0.77},{"s":"EIT+","t":580,"v":0.75},{"s":"EIT+","t":600,"v":0.73},{"s":"EIT+","t":620,"v":0.71},{"s":"EIT+","t":640,"v":0.69},{"s":"EIT+","t":660,"v":0.68},{"s":"EIT+","t":680,"v":0.66},{"s":"EIT+","t":700,"v":0.65},{"s":"EIT+","t":720,"v":0.63},{"s":"EIT+","t":740,"v":0.61},{"s":"EIT+","t":760,"v":0.6},{"s":"EIT+","t":780,"v":0.59},{"s":"EIT+","t":800,"v":0.58},{"s":"EIT+","t":820,"v":0.56},{"s":"EIT+","t":840,"v":0.55},{"s":"EIT+","t":860,"v":0.53},{"s":"EIT+","t":880,"v":0.51},{"s":"EIT+","t":900,"v":0.5},{"s":"EIT+","t":920,"v":0.47},{"s":"EIT+","t":940,"v":0.44},{"s":"EIT+","t":960,"v":0.44},{"s":"EIT+","t":980,"v":0.46},{"s":"EIT+","t":1000,"v":0.46},
{"s":"ICN2","t":115,"v":0.14},{"s":"ICN2","t":145,"v":0.13},{"s":"ICN2","t":205,"v":0.15},{"s":"ICN2","t":210,"v":0.17},{"s":"ICN2","t":250,"v":0.17},{"s":"ICN2","t":255,"v":0.15},{"s":"ICN2","t":280,"v":0.15},{"s":"ICN2","t":300,"v":0.13},{"s":"ICN2","t":320,"v":0.15},{"s":"ICN2","t":335,"v":0.15},{"s":"ICN2","t":345,"v":0.16},{"s":"ICN2","t":370,"v":0.14},{"s":"ICN2","t":385,"v":0.14},{"s":"ICN2","t":400,"v":0.15},{"s":"ICN2","t":510,"v":0.16},{"s":"ICN2","t":520,"v":0.2},{"s":"ICN2","t":530,"v":0.22},{"s":"ICN2","t":540,"v":0.24},{"s":"ICN2","t":550,"v":0.22},{"s":"ICN2","t":560,"v":0.26},{"s":"ICN2","t":570,"v":0.28},{"s":"ICN2","t":580,"v":0.22},{"s":"ICN2","t":590,"v":0.18},{"s":"ICN2","t":660,"v":0.17},{"s":"ICN2","t":675,"v":0.2},{"s":"ICN2","t":690,"v":0.22},{"s":"ICN2","t":700,"v":0.25},{"s":"ICN2","t":710,"v":0.3},{"s":"ICN2","t":720,"v":0.33},{"s":"ICN2","t":730,"v":0.28},{"s":"ICN2","t":740,"v":0.22},{"s":"ICN2","t":750,"v":0.2},{"s":"ICN2","t":760,"v":0.17},{"s":"ICN2","t":785,"v":0.15},{"s":"ICN2","t":800,"v":0.15},{"s":"ICN2","t":990,"v":0.13},
{"s":"TEIC","t":0,"v":2.45},{"s":"TEIC","t":2,"v":2.0},{"s":"TEIC","t":4,"v":1.7},{"s":"TEIC","t":6,"v":1.6},{"s":"TEIC","t":8,"v":1.52},{"s":"TEIC","t":10,"v":1.46},{"s":"TEIC","t":15,"v":1.4},{"s":"TEIC","t":20,"v":1.36},{"s":"TEIC","t":30,"v":1.33},{"s":"TEIC","t":40,"v":1.3},{"s":"TEIC","t":60,"v":1.27},{"s":"TEIC","t":80,"v":1.23},{"s":"TEIC","t":100,"v":1.2},{"s":"TEIC","t":120,"v":1.19},{"s":"TEIC","t":140,"v":1.18},{"s":"TEIC","t":160,"v":1.16},{"s":"TEIC","t":180,"v":1.13},{"s":"TEIC","t":200,"v":1.1},{"s":"TEIC","t":220,"v":1.08},{"s":"TEIC","t":240,"v":1.05},{"s":"TEIC","t":260,"v":1.04},{"s":"TEIC","t":280,"v":1.02},{"s":"TEIC","t":300,"v":1.0},{"s":"TEIC","t":320,"v":0.98},{"s":"TEIC","t":340,"v":0.96},{"s":"TEIC","t":360,"v":0.95},{"s":"TEIC","t":380,"v":0.93},{"s":"TEIC","t":400,"v":0.91},{"s":"TEIC","t":420,"v":0.9},{"s":"TEIC","t":440,"v":0.88},{"s":"TEIC","t":460,"v":0.86},{"s":"TEIC","t":480,"v":0.84},{"s":"TEIC","t":500,"v":0.8},{"s":"TEIC","t":520,"v":0.77},{"s":"TEIC","t":540,"v":0.74},{"s":"TEIC","t":560,"v":0.72},{"s":"TEIC","t":580,"v":0.7},{"s":"TEIC","t":600,"v":0.67},{"s":"TEIC","t":620,"v":0.65},{"s":"TEIC","t":640,"v":0.63},{"s":"TEIC","t":660,"v":0.6},{"s":"TEIC","t":680,"v":0.57},{"s":"TEIC","t":700,"v":0.54},{"s":"TEIC","t":720,"v":0.51},{"s":"TEIC","t":740,"v":0.48},{"s":"TEIC","t":760,"v":0.46},{"s":"TEIC","t":780,"v":0.43},{"s":"TEIC","t":800,"v":0.41},{"s":"TEIC","t":820,"v":0.39},{"s":"TEIC","t":840,"v":0.37},{"s":"TEIC","t":860,"v":0.35},{"s":"TEIC","t":880,"v":0.33},{"s":"TEIC","t":900,"v":0.31},{"s":"TEIC","t":920,"v":0.28},{"s":"TEIC","t":940,"v":0.26},{"s":"TEIC","t":960,"v":0.25},{"s":"TEIC","t":980,"v":0.25},{"s":"TEIC","t":1000,"v":0.26},
{"s":"UTV","t":25,"v":3.72},{"s":"UTV","t":28,"v":3.65},{"s":"UTV","t":30,"v":3.55},{"s":"UTV","t":32,"v":3.45},{"s":"UTV","t":35,"v":3.5},{"s":"UTV","t":38,"v":3.35},{"s":"UTV","t":40,"v":3.5},{"s":"UTV","t":42,"v":3.3},{"s":"UTV","t":45,"v":3.42},{"s":"UTV","t":48,"v":3.25},{"s":"UTV","t":50,"v":3.35},{"s":"UTV","t":55,"v":3.2},{"s":"UTV","t":58,"v":3.1},{"s":"UTV","t":60,"v":3.3},{"s":"UTV","t":63,"v":3.15},{"s":"UTV","t":65,"v":3.05},{"s":"UTV","t":70,"v":3.1},{"s":"UTV","t":72,"v":2.95},{"s":"UTV","t":75,"v":3.0},{"s":"UTV","t":78,"v":2.9},{"s":"UTV","t":80,"v":3.0},{"s":"UTV","t":83,"v":2.8},{"s":"UTV","t":86,"v":2.75},{"s":"UTV","t":90,"v":2.95},{"s":"UTV","t":92,"v":2.85},{"s":"UTV","t":95,"v":2.8},{"s":"UTV","t":98,"v":2.7},{"s":"UTV","t":100,"v":2.95},{"s":"UTV","t":105,"v":2.85},{"s":"UTV","t":108,"v":2.75},{"s":"UTV","t":112,"v":2.7},{"s":"UTV","t":112,"v":2.55},{"s":"UTV","t":116,"v":2.48},{"s":"UTV","t":145,"v":0.2},{"s":"UTV","t":150,"v":0.3},{"s":"UTV","t":152,"v":0.25},{"s":"UTV","t":155,"v":0.2},{"s":"UTV","t":160,"v":0.32},{"s":"UTV","t":165,"v":0.22},{"s":"UTV","t":170,"v":0.2},{"s":"UTV","t":180,"v":0.18},{"s":"UTV","t":190,"v":0.25},{"s":"UTV","t":195,"v":0.3},{"s":"UTV","t":200,"v":0.2},{"s":"UTV","t":205,"v":0.18}
]
},
"columns":2,
"spacing":{"row":130,"column":183},
"bounds":"flush",
"concat":[
{"title":"P3HT-I","width":389,"height":303,"resolve":{"scale":{"x":"independent","y":"independent"}},
"layer":[
{"data":{"name":"p1"},"mark":{"type":"square","size":64,"opacity":1},"encoding":{"x":{"field":"t","type":"quantitative","scale":{"domain":[0,1000],"nice":false},"axis":{"title":"Time t [h]","tickCount":5,"format":"d"}},"y":{"field":"v","type":"quantitative","scale":{"domain":[0,4],"nice":false},"axis":{"title":"Power Conversion Efficiency η [%]","tickCount":8,"format":".1f"}},"color":{"field":"s","type":"nominal","scale":{"domain":["CEA","EIT+","ICN2","TEIC","UTV"],"range":["#404040","#800000","#000080","#008080","#8000ff"]},"legend":{"orient":"none","legendX":506,"legendY":905,"title":null,"symbolType":"square","symbolSize":169,"symbolStrokeWidth":0,"labelFontSize":36,"labelOffset":26,"rowPadding":10,"padding":0,"labelColor":"#000"}}}},
{"data":{"values":[{"t":0,"v":0}]},"mark":{"type":"point","opacity":0},"encoding":{"x":{"field":"t","type":"quantitative","scale":{"domain":[0,1000],"nice":false},"axis":{"orient":"top","labels":false,"title":null,"tickCount":5}},"y":{"field":"v","type":"quantitative","scale":{"domain":[0,4],"nice":false},"axis":{"orient":"right","labels":false,"title":null,"tickCount":8}}}},
{"data":{"values":[{"t":0,"v":0}]},"mark":{"type":"point","opacity":0},"encoding":{"x":{"field":"t","type":"quantitative","scale":{"domain":[0,1000],"nice":false},"axis":{"orient":"bottom","labels":false,"domain":false,"title":null,"tickCount":50,"tickSize":-2.5}},"y":{"field":"v","type":"quantitative","scale":{"domain":[0,4],"nice":false},"axis":{"orient":"left","labels":false,"domain":false,"title":null,"tickCount":40,"tickSize":-2.5}}}},
{"data":{"values":[{"t":0,"v":0}]},"mark":{"type":"point","opacity":0},"encoding":{"x":{"field":"t","type":"quantitative","scale":{"domain":[0,1000],"nice":false},"axis":{"orient":"top","labels":false,"domain":false,"title":null,"tickCount":50,"tickSize":-2.5}},"y":{"field":"v","type":"quantitative","scale":{"domain":[0,4],"nice":false},"axis":{"orient":"right","labels":false,"domain":false,"title":null,"tickCount":40,"tickSize":-2.5}}}}
]},
{"title":"P3HT-II","width":389,"height":303,"resolve":{"scale":{"x":"independent","y":"independent"}},
"layer":[
{"data":{"name":"p2"},"mark":{"type":"square","size":64,"opacity":1},"encoding":{"x":{"field":"t","type":"quantitative","scale":{"domain":[0,1000],"nice":false},"axis":{"title":"Time (h)","tickCount":5,"format":"d"}},"y":{"field":"v","type":"quantitative","scale":{"domain":[0,4],"nice":false},"axis":{"title":"Power Conversion Efficiency η [%]","tickCount":8,"format":".1f"}},"color":{"field":"s","type":"nominal","scale":{"domain":["CEA","EIT+","ICN2","TEIC","UTV"],"range":["#404040","#800000","#000080","#008080","#8000ff"]}}}},
{"data":{"values":[{"t":0,"v":0}]},"mark":{"type":"point","opacity":0},"encoding":{"x":{"field":"t","type":"quantitative","scale":{"domain":[0,1000],"nice":false},"axis":{"orient":"top","labels":false,"title":null,"tickCount":5}},"y":{"field":"v","type":"quantitative","scale":{"domain":[0,4],"nice":false},"axis":{"orient":"right","labels":false,"title":null,"tickCount":8}}}},
{"data":{"values":[{"t":0,"v":0}]},"mark":{"type":"point","opacity":0},"encoding":{"x":{"field":"t","type":"quantitative","scale":{"domain":[0,1000],"nice":false},"axis":{"orient":"bottom","labels":false,"domain":false,"title":null,"tickCount":50,"tickSize":-2.5}},"y":{"field":"v","type":"quantitative","scale":{"domain":[0,4],"nice":false},"axis":{"orient":"left","labels":false,"domain":false,"title":null,"tickCount":40,"tickSize":-2.5}}}},
{"data":{"values":[{"t":0,"v":0}]},"mark":{"type":"point","opacity":0},"encoding":{"x":{"field":"t","type":"quantitative","scale":{"domain":[0,1000],"nice":false},"axis":{"orient":"top","labels":false,"domain":false,"title":null,"tickCount":50,"tickSize":-2.5}},"y":{"field":"v","type":"quantitative","scale":{"domain":[0,4],"nice":false},"axis":{"orient":"right","labels":false,"domain":false,"title":null,"tickCount":40,"tickSize":-2.5}}}}
]},
{"title":"P3HT-III","width":389,"height":303,"resolve":{"scale":{"x":"independent","y":"independent"}},
"layer":[
{"data":{"name":"p3"},"mark":{"type":"square","size":64,"opacity":1},"encoding":{"x":{"field":"t","type":"quantitative","scale":{"domain":[0,1000],"nice":false},"axis":{"title":"Time (h)","tickCount":5,"format":"d"}},"y":{"field":"v","type":"quantitative","scale":{"domain":[0,4],"nice":false},"axis":{"title":"Power Conversion Efficiency η [%]","tickCount":8,"format":".1f"}},"color":{"field":"s","type":"nominal","scale":{"domain":["CEA","EIT+","ICN2","TEIC","UTV"],"range":["#404040","#800000","#000080","#008080","#8000ff"]}}}},
{"data":{"values":[{"t":0,"v":0}]},"mark":{"type":"point","opacity":0},"encoding":{"x":{"field":"t","type":"quantitative","scale":{"domain":[0,1000],"nice":false},"axis":{"orient":"top","labels":false,"title":null,"tickCount":5}},"y":{"field":"v","type":"quantitative","scale":{"domain":[0,4],"nice":false},"axis":{"orient":"right","labels":false,"title":null,"tickCount":8}}}},
{"data":{"values":[{"t":0,"v":0}]},"mark":{"type":"point","opacity":0},"encoding":{"x":{"field":"t","type":"quantitative","scale":{"domain":[0,1000],"nice":false},"axis":{"orient":"bottom","labels":false,"domain":false,"title":null,"tickCount":50,"tickSize":-2.5}},"y":{"field":"v","type":"quantitative","scale":{"domain":[0,4],"nice":false},"axis":{"orient":"left","labels":false,"domain":false,"title":null,"tickCount":40,"tickSize":-2.5}}}},
{"data":{"values":[{"t":0,"v":0}]},"mark":{"type":"point","opacity":0},"encoding":{"x":{"field":"t","type":"quantitative","scale":{"domain":[0,1000],"nice":false},"axis":{"orient":"top","labels":false,"domain":false,"title":null,"tickCount":50,"tickSize":-2.5}},"y":{"field":"v","type":"quantitative","scale":{"domain":[0,4],"nice":false},"axis":{"orient":"right","labels":false,"domain":false,"title":null,"tickCount":40,"tickSize":-2.5}}}}
]},
{"title":"P3HT-IV","width":389,"height":303,"resolve":{"scale":{"x":"independent","y":"independent"}},
"layer":[
{"data":{"name":"p4"},"mark":{"type":"square","size":64,"opacity":1},"encoding":{"x":{"field":"t","type":"quantitative","scale":{"domain":[0,1000],"nice":false},"axis":{"title":"Time (h)","tickCount":5,"format":"d"}},"y":{"field":"v","type":"quantitative","scale":{"domain":[0,4],"nice":false},"axis":{"title":"Power Conversion Efficiency η [%]","tickCount":8,"format":".1f"}},"color":{"field":"s","type":"nominal","scale":{"domain":["CEA","EIT+","ICN2","TEIC","UTV"],"range":["#404040","#800000","#000080","#008080","#8000ff"]}}}},
{"data":{"values":[{"t":0,"v":0}]},"mark":{"type":"point","opacity":0},"encoding":{"x":{"field":"t","type":"quantitative","scale":{"domain":[0,1000],"nice":false},"axis":{"orient":"top","labels":false,"title":null,"tickCount":5}},"y":{"field":"v","type":"quantitative","scale":{"domain":[0,4],"nice":false},"axis":{"orient":"right","labels":false,"title":null,"tickCount":8}}}},
{"data":{"values":[{"t":0,"v":0}]},"mark":{"type":"point","opacity":0},"encoding":{"x":{"field":"t","type":"quantitative","scale":{"domain":[0,1000],"nice":false},"axis":{"orient":"bottom","labels":false,"domain":false,"title":null,"tickCount":50,"tickSize":-2.5}},"y":{"field":"v","type":"quantitative","scale":{"domain":[0,4],"nice":false},"axis":{"orient":"left","labels":false,"domain":false,"title":null,"tickCount":40,"tickSize":-2.5}}}},
{"data":{"values":[{"t":0,"v":0}]},"mark":{"type":"point","opacity":0},"encoding":{"x":{"field":"t","type":"quantitative","scale":{"domain":[0,1000],"nice":false},"axis":{"orient":"top","labels":false,"domain":false,"title":null,"tickCount":50,"tickSize":-2.5}},"y":{"field":"v","type":"quantitative","scale":{"domain":[0,4],"nice":false},"axis":{"orient":"right","labels":false,"domain":false,"title":null,"tickCount":40,"tickSize":-2.5}}}}
]},
{"title":"P3HT-V","width":389,"height":303,"resolve":{"scale":{"x":"independent","y":"independent"}},
"layer":[
{"data":{"name":"p5"},"mark":{"type":"square","size":64,"opacity":1},"encoding":{"x":{"field":"t","type":"quantitative","scale":{"domain":[0,1000],"nice":false},"axis":{"title":"Time (h)","tickCount":5,"format":"d"}},"y":{"field":"v","type":"quantitative","scale":{"domain":[0,4],"nice":false},"axis":{"title":"Power Conversion Efficiency η [%]","tickCount":8,"format":".1f"}},"color":{"field":"s","type":"nominal","scale":{"domain":["CEA","EIT+","ICN2","TEIC","UTV"],"range":["#404040","#800000","#000080","#008080","#8000ff"]}}}},
{"data":{"values":[{"t":0,"v":0}]},"mark":{"type":"point","opacity":0},"encoding":{"x":{"field":"t","type":"quantitative","scale":{"domain":[0,1000],"nice":false},"axis":{"orient":"top","labels":false,"title":null,"tickCount":5}},"y":{"field":"v","type":"quantitative","scale":{"domain":[0,4],"nice":false},"axis":{"orient":"right","labels":false,"title":null,"tickCount":8}}}},
{"data":{"values":[{"t":0,"v":0}]},"mark":{"type":"point","opacity":0},"encoding":{"x":{"field":"t","type":"quantitative","scale":{"domain":[0,1000],"nice":false},"axis":{"orient":"bottom","labels":false,"domain":false,"title":null,"tickCount":50,"tickSize":-2.5}},"y":{"field":"v","type":"quantitative","scale":{"domain":[0,4],"nice":false},"axis":{"orient":"left","labels":false,"domain":false,"title":null,"tickCount":40,"tickSize":-2.5}}}},
{"data":{"values":[{"t":0,"v":0}]},"mark":{"type":"point","opacity":0},"encoding":{"x":{"field":"t","type":"quantitative","scale":{"domain":[0,1000],"nice":false},"axis":{"orient":"top","labels":false,"domain":false,"title":null,"tickCount":50,"tickSize":-2.5}},"y":{"field":"v","type":"quantitative","scale":{"domain":[0,4],"nice":false},"axis":{"orient":"right","labels":false,"domain":false,"title":null,"tickCount":40,"tickSize":-2.5}}}}
]}
],
"config":{
"font":"Liberation Sans",
"view":{"stroke":null},
"axis":{"grid":false,"domainColor":"#000","tickColor":"#000","labelColor":"#000","titleColor":"#000","labelFont":"Liberation Sans","titleFont":"Liberation Sans","labelFontSize":19.5,"titleFontSize":20,"titleFontWeight":"normal","labelFlush":false,"labelOverlap":false,"tickSize":-5,"domainWidth":1,"tickWidth":1},
"axisX":{"labelPadding":16.5,"titlePadding":12},
"axisY":{"labelPadding":16,"titlePadding":4},
"title":{"font":"Liberation Sans","fontSize":21,"fontWeight":"normal","offset":-7,"color":"#000"},
"legend":{"labelFont":"Liberation Sans"}
}
}
